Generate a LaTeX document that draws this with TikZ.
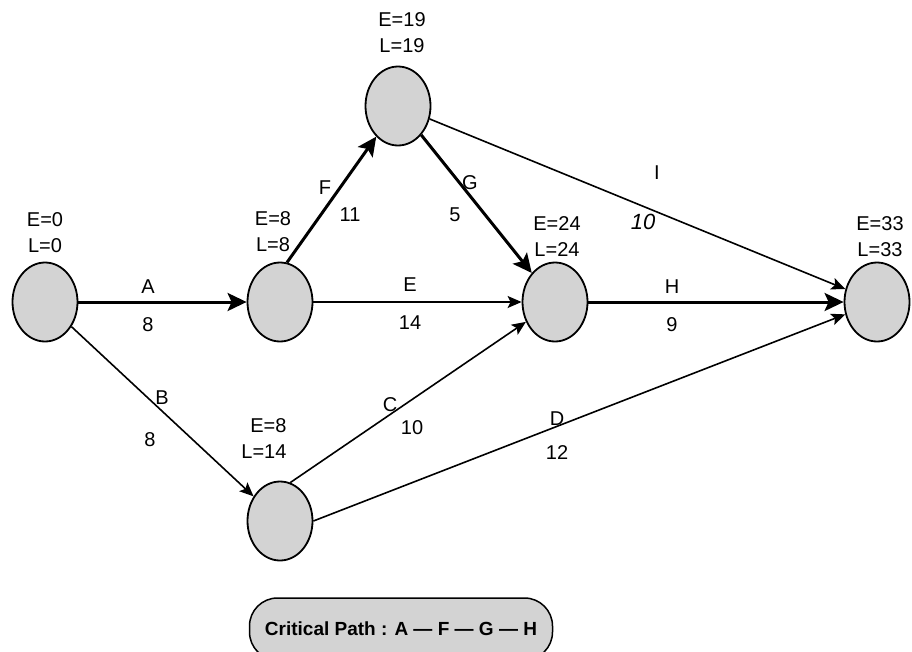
\documentclass[tikz,border=0pt]{standalone}
\usepackage{fontspec}
\setmainfont{Liberation Sans}
\usepackage{tikz}
\usetikzlibrary{arrows.meta,shapes.geometric}
\definecolor{evgray}{RGB}{211,211,211}

\begin{document}
\begin{tikzpicture}[x=1pt,y=-1pt,
	every node/.style={font=\fontsize{20}{26}\selectfont},
	event/.style={ellipse,draw,line width=1.8pt,fill=evgray,minimum width=65pt,minimum height=79pt,inner sep=0pt},
	act/.style={line width=1.6pt,-{Stealth[length=14pt,width=12pt,inset=3pt]}},
	crit/.style={line width=3pt,-{Stealth[length=19pt,width=18pt,inset=4pt]}}]
	\useasboundingbox (0,0) rectangle (912,651);
	
	%events
	\node[event] (n1) at (45,302) 	{};
	\node[event] (n2) at (280,302) 	{};
	\node[event] (n3) at (398,106) 	{};
	\node[event] (n4) at (555,302) 	{};
	\node[event] (n5) at (877,302) 	{};
	\node[event] (n6) at (280,521) 	{};
	
	%times
	\node[align=center] (t1) at (45,233) 	{E=0\\L=0};
	\node[align=center] (t2) at (273,232) 	{E=8\\L=8};
	\node[align=center] (t3) at (402,33) 	{E=19\\L=19};
	\node[align=center] (t4) at (557,237) 	{E=24\\L=24};
	\node[align=center] (t5) at (880,237) 	{E=33\\L=33};
	\node[align=right,anchor=east] (t6) at (290,439) {E=8\\L=14};
	
	%activities
	\draw[crit]	(n1) -- (n2);		%A
	\draw[act]	(n1) -- (n6);		%B
	\draw[act]	(n6.75) -- (n4);	%C
	\draw[act]	(n6.east) -- (n5);	%D
	\draw[act]	(n2) -- (n4);		%E
	\draw[crit]	(n2.80) -- (n3);	%F
	\draw[crit]	(n3) -- (n4);		%G
	\draw[crit]	(n4) -- (n5);		%H
	\draw[act]	(n3) -- (n5);		%I
	
	%labels
	\node (lA) at (148,287) 	{A};
	\node (dA) at (148,325) 	{8};
	\node (lB) at (162,398) 	{B};
	\node (dB) at (150,440) 	{8};
	\node (lC) at (390,405) 	{C};
	\node (dC) at (412,428) 	{10};
	\node (lD) at (557,419) 	{D};
	\node (dD) at (557,453) 	{12};
	\node (lE) at (410,285) 	{E};
	\node (dE) at (410,323) 	{14};
	\node (lF) at (325,188) 	{F};
	\node (dF) at (350,215) 	{11};
	\node (lG) at (470,183) 	{G};
	\node (dG) at (455,215) 	{5};
	\node (lH) at (672,287) 	{H};
	\node (dH) at (672,325) 	{9};
	\node (lI) at (657,173) 	{I};
	\node[font=\fontsize{22}{26}\selectfont\itshape] (dI) at (643,222) {10};
	
	%critical path
	\node[draw,line width=1.5pt,fill=evgray,rounded corners=28pt,minimum width=303pt,minimum height=62pt,
		font=\fontsize{19}{22}\selectfont\bfseries] (cp) at (401,629) {Critical Path : A — F — G — H};
\end{tikzpicture}
\end{document}
